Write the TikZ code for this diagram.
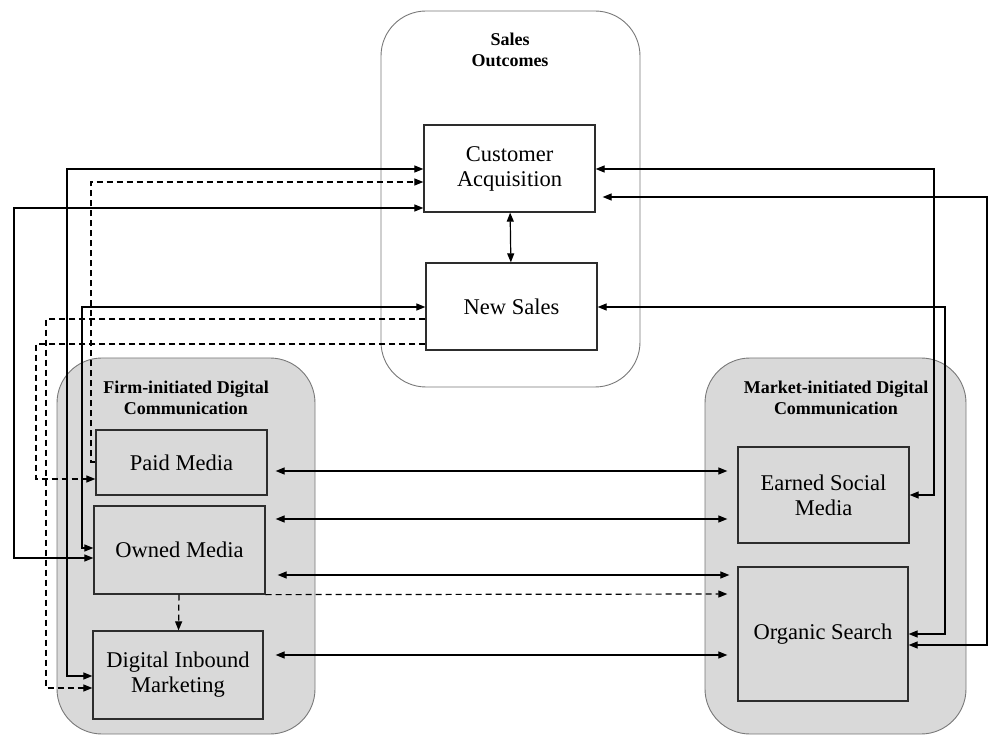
\documentclass[tikz,border=0pt]{standalone}
\usepackage{fontspec}
\setmainfont{Liberation Serif}
\usetikzlibrary{arrows.meta}
\definecolor{panelgray}{RGB}{217,217,217}
\definecolor{edgegray}{RGB}{120,120,120}
\definecolor{boxline}{RGB}{45,45,45}
\tikzset{
  panel/.style={draw=edgegray, line width=0.9pt, rounded corners=45pt, inner sep=0pt},
  box/.style={draw=boxline, line width=1.3pt, inner sep=0pt, align=center,
    font=\fontsize{22.5}{25}\selectfont},
  heading/.style={align=center, font=\bfseries\fontsize{18}{20.5}\selectfont},
  link/.style={line width=1.2pt},
  dashlink/.style={link, dash pattern=on 6pt off 4pt},
}

\begin{document}
\begin{tikzpicture}[x=1pt, y=-1pt, >={Triangle[length=9pt,width=7pt]}]
\useasboundingbox (0, 0) rectangle (989, 735);

% groups
\node[panel, fill=white, minimum width=259, minimum height=376] at (510.5, 199) (sales) {};
\node[panel, fill=panelgray, minimum width=258, minimum height=376] at (186, 546) (firm) {};
\node[panel, fill=panelgray, minimum width=261, minimum height=376] at (835.5, 546) (market) {};
\node[heading] at (510, 50) (salest) {Sales\\Outcomes};
\node[heading] at (186, 398) (firmt) {Firm-initiated Digital\\Communication};
\node[heading] at (836, 398) (markett) {Market-initiated Digital\\Communication};

% boxes
\node[box, minimum width=171, minimum height=87] at (509.5, 168.5) (ca) {Customer\\Acquisition};
\node[box, minimum width=171, minimum height=87] at (511.5, 306.5) (ns) {New Sales};
\node[box, minimum width=171, minimum height=65] at (181.5, 462.5) (pm) {Paid Media};
\node[box, minimum width=171, minimum height=88] at (179.5, 550) (om) {Owned Media};
\node[box, minimum width=170, minimum height=88] at (178, 675) (dim) {Digital Inbound\\Marketing};
\node[box, minimum width=171, minimum height=96] at (823.5, 495) (esm) {Earned Social\\Media};
\node[box, minimum width=170, minimum height=134] at (823, 634) (os) {Organic Search};

% sales outcomes
\draw[link, <->] (ca) -- (ns);

% left routes
\draw[link, <->] (dim.west |- 0, 676) -| (67, 169) -- (ca.west |- 0, 169);
\draw[dashlink, ->] (pm.west |- 0, 462) -| (91, 182) -- (ca.west |- 0, 182);
\draw[link, <->] (om.west |- 0, 558) -| (14, 208) -- (ca.west |- 0, 208);
\draw[link, <->] (om.west |- 0, 548) -| (82, 307) -- (ns.west |- 0, 307);
\draw[dashlink, ->] (ns.west |- 0, 319) -| (46, 688) -- (dim.west |- 0, 688);
\draw[dashlink, ->] (ns.west |- 0, 344) -| (36, 479) -- (pm.west |- 0, 479);

% right routes
\draw[link, <->] (esm.east |- 0, 495) -| (934, 169) -- (ca.east |- 0, 169);
\draw[link, <->, shorten >=7pt] (os.east |- 0, 645) -| (987, 197) -- (ca.east |- 0, 197);
\draw[link, <->] (os.east |- 0, 634) -| (945, 307) -- (ns.east |- 0, 307);

% firm <-> market
\draw[link, <->, shorten <=8pt, shorten >=10pt] (pm.east |- 0, 471) -- (esm.west |- 0, 471);
\draw[link, <->, shorten <=10pt, shorten >=10pt] (om.east |- 0, 519) -- (esm.west |- 0, 519);
\draw[link, <->, shorten <=12pt, shorten >=8pt] (om.east |- 0, 575) -- (os.west |- 0, 575);
\draw[dashlink, ->, shorten >=10pt] (om.south east) -- (os.west |- 0, 594);
\draw[link, <->, shorten <=12pt, shorten >=10pt] (dim.east |- 0, 655) -- (os.west |- 0, 655);
\draw[dashlink, ->] (om) -- (dim);
\end{tikzpicture}
\end{document}
